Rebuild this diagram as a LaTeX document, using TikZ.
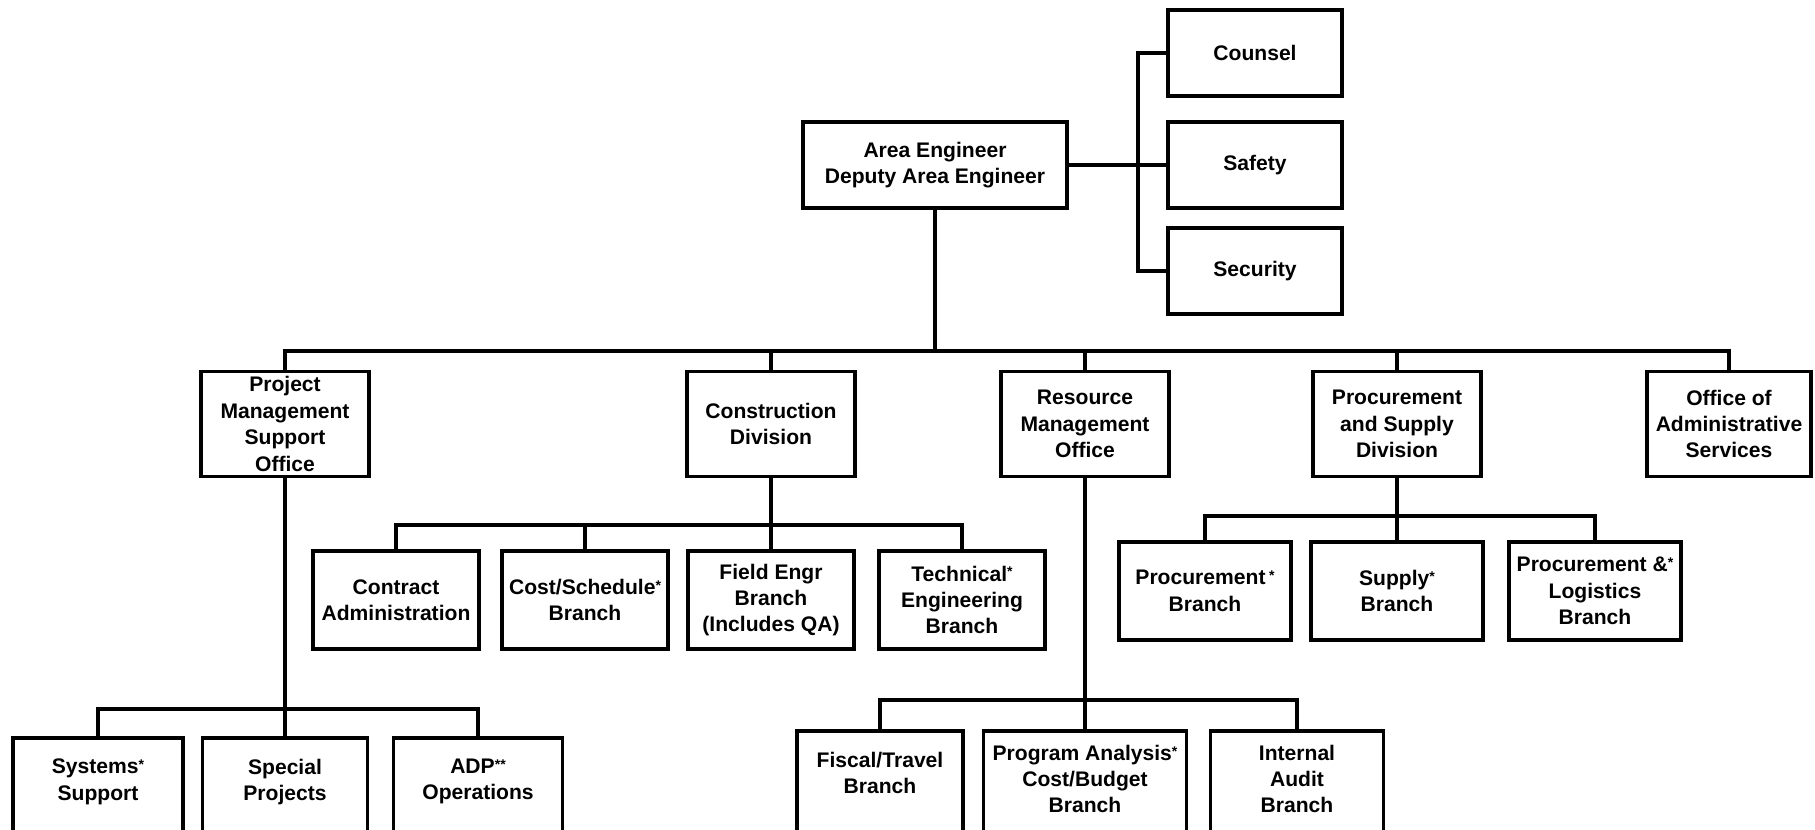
\documentclass[tikz,border=0pt]{standalone}
\usepackage{fontspec}
\setmainfont{Liberation Sans}
\usepackage{tikz}
\newcommand{\nt}{\raisebox{.2em}{\footnotesize*}}

\begin{document}
\begin{tikzpicture}[
		box/.style={draw, line width=2.2pt, align=center, inner xsep=2pt, inner ysep=1pt,
			font=\fontsize{12}{15}\selectfont\bfseries},
		unit/.style={box, minimum width=3.36cm, minimum height=2.10cm},
		branch/.style={box, minimum width=#1, minimum height=1.96cm},
		lowbox/.style 2 args={box, anchor=north, minimum width=#1, inner ysep=#2, text depth=4cm},
		link/.style={line width=2.4pt},
		staffline/.style={line width=1.8pt}]
		% Frame of the chart
		\useasboundingbox (0,0) rectangle (36.30,16.60);
		\clip (0,0) rectangle (36.30,16.60);
		% Area Engineer and staff offices
		\node[box, minimum width=5.28cm, minimum height=1.72cm] (ae) at (18.70,13.30) {Area Engineer\\Deputy Area Engineer};
		\node[box, minimum width=3.48cm, minimum height=1.72cm] (counsel) at (25.10,15.54) {Counsel};
		\node[box, minimum width=3.48cm, minimum height=1.72cm] (safety) at (25.10,13.30) {Safety};
		\node[box, minimum width=3.48cm, minimum height=1.72cm] (security) at (25.10,11.18) {Security};
		\coordinate (staff) at (22.76,13.30);
		\draw[staffline] (ae.east) -- (safety.west);
		\draw[staffline] (counsel.west) -| (staff) |- (security.west);
		% Divisions and offices
		\node[unit] (pmso) at (5.70,8.12) {Project\\Management\\Support\\Office};
		\node[unit] (cons) at (15.42,8.12) {Construction\\Division};
		\node[unit] (rmo) at (21.70,8.12) {Resource\\Management\\Office};
		\node[unit] (psd) at (27.94,8.12) {Procurement\\and Supply\\Division};
		\node[unit, minimum width=3.28cm] (oas) at (34.58,8.12) {Office of\\Administrative\\Services};
		% Main bus
		\coordinate (bus) at (18.70,9.58);
		\draw[link] (ae.south) -- (bus);
		\draw[link] (pmso.north) |- (bus) -| (oas.north);
		\foreach \n in {cons,rmo,psd}
			\draw[link] (\n.north) -- (\n.north |- bus);
		% Construction Division branches
		\node[branch=3.32cm] (ca) at (7.92,4.60) {Contract\\Administration};
		\node[branch=3.32cm] (csb) at (11.70,4.60) {Cost/Schedule\nt\\Branch};
		\node[branch=3.32cm] (feb) at (15.42,4.60) {Field Engr\\Branch\\(Includes QA)};
		\node[branch=3.32cm] (teb) at (19.24,4.60) {Technical\nt\\Engineering\\Branch};
		\coordinate (cbus) at (15.42,6.10);
		\draw[link] (cons.south) -- (feb.north);
		\draw[link] (ca.north) |- (cbus) -| (teb.north);
		\draw[link] (csb.north) -- (csb.north |- cbus);
		% Procurement and Supply Division branches
		\node[branch=3.44cm] (pb) at (24.10,4.78) {Procurement\,\nt\\Branch};
		\node[branch=3.44cm] (sb) at (27.94,4.78) {Supply\nt\\Branch};
		\node[branch=3.44cm] (plb) at (31.90,4.78) {Procurement \&\nt\\Logistics\\Branch};
		\coordinate (pbus) at (27.94,6.28);
		\draw[link] (psd.south) -- (sb.north);
		\draw[link] (pb.north) |- (pbus) -| (plb.north);
		% Project Management Support Office units
		\node[lowbox={3.40cm}{12pt}] (ss) at (1.96,1.88) {Systems\nt\\Support};
		\node[lowbox={3.30cm}{12pt}] (sp) at (5.70,1.88) {Special\\Projects};
		\node[lowbox={3.38cm}{12pt}] (adp) at (9.56,1.88) {ADP\nt\nt\\Operations};
		\coordinate (mbus) at (5.70,2.42);
		\draw[link] (pmso.south) -- (sp.north);
		\draw[link] (ss.north) |- (mbus) -| (adp.north);
		% Resource Management Office branches
		\node[lowbox={3.32cm}{12pt}] (ftb) at (17.60,2.02) {Fiscal/Travel\\Branch};
		\node[lowbox={4.06cm}{8pt}] (pacb) at (21.70,2.02) {Program Analysis\nt\\Cost/Budget\\Branch};
		\node[lowbox={3.46cm}{8pt}] (iab) at (25.94,2.02) {Internal\\Audit\\Branch};
		\coordinate (rbus) at (21.70,2.60);
		\draw[link] (rmo.south) -- (pacb.north);
		\draw[link] (ftb.north) |- (rbus) -| (iab.north);
	\end{tikzpicture}
\end{document}
